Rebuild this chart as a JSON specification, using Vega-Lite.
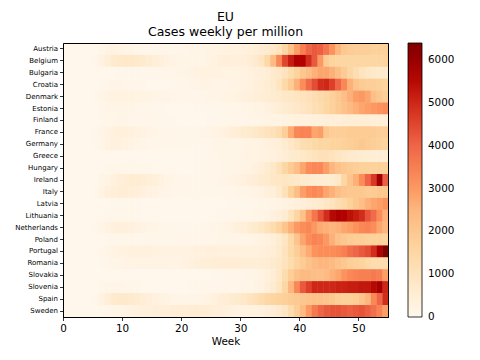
{"$schema":"https://vega.github.io/schema/vega-lite/v6.json","width":325,"height":274,"autosize":{"type":"none"},"padding":{"left":63,"top":43,"right":92,"bottom":43},
"title":{"text":["EU","Cases weekly per million"],"fontSize":12.5,"font":"DejaVu Sans","fontWeight":"normal","color":"black","lineHeight":15,"offset":5,"anchor":"middle"},
"data":{"values":[
{"c":"Austria","w":0,"v":0},{"c":"Austria","w":1,"v":0},{"c":"Austria","w":2,"v":0},{"c":"Austria","w":3,"v":0},{"c":"Austria","w":4,"v":0},{"c":"Austria","w":5,"v":20},{"c":"Austria","w":6,"v":80},{"c":"Austria","w":7,"v":200},{"c":"Austria","w":8,"v":250},{"c":"Austria","w":9,"v":200},{"c":"Austria","w":10,"v":150},{"c":"Austria","w":11,"v":100},{"c":"Austria","w":12,"v":60},{"c":"Austria","w":13,"v":40},{"c":"Austria","w":14,"v":30},{"c":"Austria","w":15,"v":30},{"c":"Austria","w":16,"v":30},{"c":"Austria","w":17,"v":40},{"c":"Austria","w":18,"v":50},{"c":"Austria","w":19,"v":60},{"c":"Austria","w":20,"v":80},{"c":"Austria","w":21,"v":100},{"c":"Austria","w":22,"v":120},{"c":"Austria","w":23,"v":150},{"c":"Austria","w":24,"v":180},{"c":"Austria","w":25,"v":200},{"c":"Austria","w":26,"v":220},{"c":"Austria","w":27,"v":250},{"c":"Austria","w":28,"v":250},{"c":"Austria","w":29,"v":280},{"c":"Austria","w":30,"v":320},{"c":"Austria","w":31,"v":380},{"c":"Austria","w":32,"v":450},{"c":"Austria","w":33,"v":550},{"c":"Austria","w":34,"v":650},{"c":"Austria","w":35,"v":800},{"c":"Austria","w":36,"v":1000},{"c":"Austria","w":37,"v":1500},{"c":"Austria","w":38,"v":2200},{"c":"Austria","w":39,"v":2900},{"c":"Austria","w":40,"v":3500},{"c":"Austria","w":41,"v":4000},{"c":"Austria","w":42,"v":4200},{"c":"Austria","w":43,"v":4100},{"c":"Austria","w":44,"v":3700},{"c":"Austria","w":45,"v":3100},{"c":"Austria","w":46,"v":2500},{"c":"Austria","w":47,"v":2000},{"c":"Austria","w":48,"v":1900},{"c":"Austria","w":49,"v":1800},{"c":"Austria","w":50,"v":1800},{"c":"Austria","w":51,"v":1800},{"c":"Austria","w":52,"v":1700},{"c":"Austria","w":53,"v":1700},{"c":"Austria","w":54,"v":1700},
{"c":"Belgium","w":0,"v":0},{"c":"Belgium","w":1,"v":0},{"c":"Belgium","w":2,"v":0},{"c":"Belgium","w":3,"v":0},{"c":"Belgium","w":4,"v":5},{"c":"Belgium","w":5,"v":80},{"c":"Belgium","w":6,"v":250},{"c":"Belgium","w":7,"v":450},{"c":"Belgium","w":8,"v":650},{"c":"Belgium","w":9,"v":750},{"c":"Belgium","w":10,"v":800},{"c":"Belgium","w":11,"v":800},{"c":"Belgium","w":12,"v":750},{"c":"Belgium","w":13,"v":650},{"c":"Belgium","w":14,"v":550},{"c":"Belgium","w":15,"v":450},{"c":"Belgium","w":16,"v":350},{"c":"Belgium","w":17,"v":250},{"c":"Belgium","w":18,"v":200},{"c":"Belgium","w":19,"v":150},{"c":"Belgium","w":20,"v":120},{"c":"Belgium","w":21,"v":100},{"c":"Belgium","w":22,"v":100},{"c":"Belgium","w":23,"v":120},{"c":"Belgium","w":24,"v":180},{"c":"Belgium","w":25,"v":280},{"c":"Belgium","w":26,"v":380},{"c":"Belgium","w":27,"v":400},{"c":"Belgium","w":28,"v":350},{"c":"Belgium","w":29,"v":350},{"c":"Belgium","w":30,"v":400},{"c":"Belgium","w":31,"v":500},{"c":"Belgium","w":32,"v":650},{"c":"Belgium","w":33,"v":900},{"c":"Belgium","w":34,"v":1400},{"c":"Belgium","w":35,"v":2400},{"c":"Belgium","w":36,"v":3300},{"c":"Belgium","w":37,"v":4500},{"c":"Belgium","w":38,"v":5200},{"c":"Belgium","w":39,"v":5600},{"c":"Belgium","w":40,"v":5600},{"c":"Belgium","w":41,"v":4900},{"c":"Belgium","w":42,"v":4200},{"c":"Belgium","w":43,"v":3000},{"c":"Belgium","w":44,"v":1900},{"c":"Belgium","w":45,"v":1600},{"c":"Belgium","w":46,"v":1500},{"c":"Belgium","w":47,"v":1500},{"c":"Belgium","w":48,"v":1500},{"c":"Belgium","w":49,"v":1500},{"c":"Belgium","w":50,"v":1500},{"c":"Belgium","w":51,"v":1500},{"c":"Belgium","w":52,"v":1500},{"c":"Belgium","w":53,"v":1500},{"c":"Belgium","w":54,"v":1600},
{"c":"Bulgaria","w":0,"v":0},{"c":"Bulgaria","w":1,"v":0},{"c":"Bulgaria","w":2,"v":0},{"c":"Bulgaria","w":3,"v":0},{"c":"Bulgaria","w":4,"v":0},{"c":"Bulgaria","w":5,"v":0},{"c":"Bulgaria","w":6,"v":0},{"c":"Bulgaria","w":7,"v":10},{"c":"Bulgaria","w":8,"v":20},{"c":"Bulgaria","w":9,"v":30},{"c":"Bulgaria","w":10,"v":30},{"c":"Bulgaria","w":11,"v":30},{"c":"Bulgaria","w":12,"v":30},{"c":"Bulgaria","w":13,"v":30},{"c":"Bulgaria","w":14,"v":40},{"c":"Bulgaria","w":15,"v":40},{"c":"Bulgaria","w":16,"v":50},{"c":"Bulgaria","w":17,"v":60},{"c":"Bulgaria","w":18,"v":80},{"c":"Bulgaria","w":19,"v":100},{"c":"Bulgaria","w":20,"v":150},{"c":"Bulgaria","w":21,"v":200},{"c":"Bulgaria","w":22,"v":250},{"c":"Bulgaria","w":23,"v":280},{"c":"Bulgaria","w":24,"v":280},{"c":"Bulgaria","w":25,"v":260},{"c":"Bulgaria","w":26,"v":240},{"c":"Bulgaria","w":27,"v":220},{"c":"Bulgaria","w":28,"v":200},{"c":"Bulgaria","w":29,"v":220},{"c":"Bulgaria","w":30,"v":250},{"c":"Bulgaria","w":31,"v":300},{"c":"Bulgaria","w":32,"v":350},{"c":"Bulgaria","w":33,"v":400},{"c":"Bulgaria","w":34,"v":500},{"c":"Bulgaria","w":35,"v":650},{"c":"Bulgaria","w":36,"v":800},{"c":"Bulgaria","w":37,"v":1000},{"c":"Bulgaria","w":38,"v":1300},{"c":"Bulgaria","w":39,"v":1600},{"c":"Bulgaria","w":40,"v":2000},{"c":"Bulgaria","w":41,"v":2300},{"c":"Bulgaria","w":42,"v":2600},{"c":"Bulgaria","w":43,"v":2800},{"c":"Bulgaria","w":44,"v":2800},{"c":"Bulgaria","w":45,"v":2600},{"c":"Bulgaria","w":46,"v":2300},{"c":"Bulgaria","w":47,"v":1900},{"c":"Bulgaria","w":48,"v":1500},{"c":"Bulgaria","w":49,"v":1200},{"c":"Bulgaria","w":50,"v":1000},{"c":"Bulgaria","w":51,"v":850},{"c":"Bulgaria","w":52,"v":750},{"c":"Bulgaria","w":53,"v":700},{"c":"Bulgaria","w":54,"v":700},
{"c":"Croatia","w":0,"v":0},{"c":"Croatia","w":1,"v":0},{"c":"Croatia","w":2,"v":0},{"c":"Croatia","w":3,"v":0},{"c":"Croatia","w":4,"v":0},{"c":"Croatia","w":5,"v":10},{"c":"Croatia","w":6,"v":40},{"c":"Croatia","w":7,"v":80},{"c":"Croatia","w":8,"v":100},{"c":"Croatia","w":9,"v":100},{"c":"Croatia","w":10,"v":80},{"c":"Croatia","w":11,"v":60},{"c":"Croatia","w":12,"v":40},{"c":"Croatia","w":13,"v":30},{"c":"Croatia","w":14,"v":20},{"c":"Croatia","w":15,"v":20},{"c":"Croatia","w":16,"v":20},{"c":"Croatia","w":17,"v":20},{"c":"Croatia","w":18,"v":30},{"c":"Croatia","w":19,"v":50},{"c":"Croatia","w":20,"v":80},{"c":"Croatia","w":21,"v":120},{"c":"Croatia","w":22,"v":150},{"c":"Croatia","w":23,"v":180},{"c":"Croatia","w":24,"v":180},{"c":"Croatia","w":25,"v":160},{"c":"Croatia","w":26,"v":150},{"c":"Croatia","w":27,"v":150},{"c":"Croatia","w":28,"v":170},{"c":"Croatia","w":29,"v":200},{"c":"Croatia","w":30,"v":250},{"c":"Croatia","w":31,"v":300},{"c":"Croatia","w":32,"v":350},{"c":"Croatia","w":33,"v":450},{"c":"Croatia","w":34,"v":550},{"c":"Croatia","w":35,"v":700},{"c":"Croatia","w":36,"v":950},{"c":"Croatia","w":37,"v":1400},{"c":"Croatia","w":38,"v":1900},{"c":"Croatia","w":39,"v":2600},{"c":"Croatia","w":40,"v":3200},{"c":"Croatia","w":41,"v":3900},{"c":"Croatia","w":42,"v":4400},{"c":"Croatia","w":43,"v":4900},{"c":"Croatia","w":44,"v":5000},{"c":"Croatia","w":45,"v":4600},{"c":"Croatia","w":46,"v":4000},{"c":"Croatia","w":47,"v":3300},{"c":"Croatia","w":48,"v":2600},{"c":"Croatia","w":49,"v":2100},{"c":"Croatia","w":50,"v":1900},{"c":"Croatia","w":51,"v":1800},{"c":"Croatia","w":52,"v":1800},{"c":"Croatia","w":53,"v":1700},{"c":"Croatia","w":54,"v":1600},
{"c":"Denmark","w":0,"v":0},{"c":"Denmark","w":1,"v":0},{"c":"Denmark","w":2,"v":0},{"c":"Denmark","w":3,"v":0},{"c":"Denmark","w":4,"v":0},{"c":"Denmark","w":5,"v":30},{"c":"Denmark","w":6,"v":120},{"c":"Denmark","w":7,"v":200},{"c":"Denmark","w":8,"v":250},{"c":"Denmark","w":9,"v":280},{"c":"Denmark","w":10,"v":280},{"c":"Denmark","w":11,"v":250},{"c":"Denmark","w":12,"v":220},{"c":"Denmark","w":13,"v":200},{"c":"Denmark","w":14,"v":180},{"c":"Denmark","w":15,"v":150},{"c":"Denmark","w":16,"v":120},{"c":"Denmark","w":17,"v":100},{"c":"Denmark","w":18,"v":80},{"c":"Denmark","w":19,"v":80},{"c":"Denmark","w":20,"v":60},{"c":"Denmark","w":21,"v":60},{"c":"Denmark","w":22,"v":60},{"c":"Denmark","w":23,"v":80},{"c":"Denmark","w":24,"v":100},{"c":"Denmark","w":25,"v":130},{"c":"Denmark","w":26,"v":160},{"c":"Denmark","w":27,"v":200},{"c":"Denmark","w":28,"v":230},{"c":"Denmark","w":29,"v":260},{"c":"Denmark","w":30,"v":300},{"c":"Denmark","w":31,"v":350},{"c":"Denmark","w":32,"v":400},{"c":"Denmark","w":33,"v":480},{"c":"Denmark","w":34,"v":550},{"c":"Denmark","w":35,"v":600},{"c":"Denmark","w":36,"v":700},{"c":"Denmark","w":37,"v":800},{"c":"Denmark","w":38,"v":850},{"c":"Denmark","w":39,"v":900},{"c":"Denmark","w":40,"v":1000},{"c":"Denmark","w":41,"v":1100},{"c":"Denmark","w":42,"v":1200},{"c":"Denmark","w":43,"v":1350},{"c":"Denmark","w":44,"v":1500},{"c":"Denmark","w":45,"v":1700},{"c":"Denmark","w":46,"v":1950},{"c":"Denmark","w":47,"v":2300},{"c":"Denmark","w":48,"v":2600},{"c":"Denmark","w":49,"v":2900},{"c":"Denmark","w":50,"v":3000},{"c":"Denmark","w":51,"v":2800},{"c":"Denmark","w":52,"v":2300},{"c":"Denmark","w":53,"v":2000},{"c":"Denmark","w":54,"v":1800},
{"c":"Estonia","w":0,"v":0},{"c":"Estonia","w":1,"v":0},{"c":"Estonia","w":2,"v":0},{"c":"Estonia","w":3,"v":0},{"c":"Estonia","w":4,"v":0},{"c":"Estonia","w":5,"v":20},{"c":"Estonia","w":6,"v":60},{"c":"Estonia","w":7,"v":100},{"c":"Estonia","w":8,"v":120},{"c":"Estonia","w":9,"v":130},{"c":"Estonia","w":10,"v":120},{"c":"Estonia","w":11,"v":100},{"c":"Estonia","w":12,"v":80},{"c":"Estonia","w":13,"v":60},{"c":"Estonia","w":14,"v":40},{"c":"Estonia","w":15,"v":30},{"c":"Estonia","w":16,"v":30},{"c":"Estonia","w":17,"v":20},{"c":"Estonia","w":18,"v":20},{"c":"Estonia","w":19,"v":20},{"c":"Estonia","w":20,"v":20},{"c":"Estonia","w":21,"v":20},{"c":"Estonia","w":22,"v":30},{"c":"Estonia","w":23,"v":30},{"c":"Estonia","w":24,"v":40},{"c":"Estonia","w":25,"v":40},{"c":"Estonia","w":26,"v":50},{"c":"Estonia","w":27,"v":60},{"c":"Estonia","w":28,"v":70},{"c":"Estonia","w":29,"v":80},{"c":"Estonia","w":30,"v":100},{"c":"Estonia","w":31,"v":130},{"c":"Estonia","w":32,"v":170},{"c":"Estonia","w":33,"v":230},{"c":"Estonia","w":34,"v":300},{"c":"Estonia","w":35,"v":380},{"c":"Estonia","w":36,"v":480},{"c":"Estonia","w":37,"v":580},{"c":"Estonia","w":38,"v":680},{"c":"Estonia","w":39,"v":780},{"c":"Estonia","w":40,"v":880},{"c":"Estonia","w":41,"v":1000},{"c":"Estonia","w":42,"v":1150},{"c":"Estonia","w":43,"v":1300},{"c":"Estonia","w":44,"v":1500},{"c":"Estonia","w":45,"v":1700},{"c":"Estonia","w":46,"v":1950},{"c":"Estonia","w":47,"v":2200},{"c":"Estonia","w":48,"v":2400},{"c":"Estonia","w":49,"v":2600},{"c":"Estonia","w":50,"v":2800},{"c":"Estonia","w":51,"v":2900},{"c":"Estonia","w":52,"v":3000},{"c":"Estonia","w":53,"v":3100},{"c":"Estonia","w":54,"v":3200},
{"c":"Finland","w":0,"v":0},{"c":"Finland","w":1,"v":0},{"c":"Finland","w":2,"v":0},{"c":"Finland","w":3,"v":0},{"c":"Finland","w":4,"v":0},{"c":"Finland","w":5,"v":10},{"c":"Finland","w":6,"v":40},{"c":"Finland","w":7,"v":70},{"c":"Finland","w":8,"v":90},{"c":"Finland","w":9,"v":100},{"c":"Finland","w":10,"v":100},{"c":"Finland","w":11,"v":90},{"c":"Finland","w":12,"v":80},{"c":"Finland","w":13,"v":70},{"c":"Finland","w":14,"v":60},{"c":"Finland","w":15,"v":50},{"c":"Finland","w":16,"v":40},{"c":"Finland","w":17,"v":30},{"c":"Finland","w":18,"v":30},{"c":"Finland","w":19,"v":20},{"c":"Finland","w":20,"v":20},{"c":"Finland","w":21,"v":20},{"c":"Finland","w":22,"v":20},{"c":"Finland","w":23,"v":20},{"c":"Finland","w":24,"v":30},{"c":"Finland","w":25,"v":30},{"c":"Finland","w":26,"v":40},{"c":"Finland","w":27,"v":50},{"c":"Finland","w":28,"v":60},{"c":"Finland","w":29,"v":70},{"c":"Finland","w":30,"v":80},{"c":"Finland","w":31,"v":100},{"c":"Finland","w":32,"v":120},{"c":"Finland","w":33,"v":150},{"c":"Finland","w":34,"v":180},{"c":"Finland","w":35,"v":200},{"c":"Finland","w":36,"v":230},{"c":"Finland","w":37,"v":260},{"c":"Finland","w":38,"v":280},{"c":"Finland","w":39,"v":300},{"c":"Finland","w":40,"v":320},{"c":"Finland","w":41,"v":340},{"c":"Finland","w":42,"v":360},{"c":"Finland","w":43,"v":380},{"c":"Finland","w":44,"v":400},{"c":"Finland","w":45,"v":420},{"c":"Finland","w":46,"v":440},{"c":"Finland","w":47,"v":460},{"c":"Finland","w":48,"v":480},{"c":"Finland","w":49,"v":500},{"c":"Finland","w":50,"v":500},{"c":"Finland","w":51,"v":480},{"c":"Finland","w":52,"v":450},{"c":"Finland","w":53,"v":420},{"c":"Finland","w":54,"v":400},
{"c":"France","w":0,"v":0},{"c":"France","w":1,"v":0},{"c":"France","w":2,"v":0},{"c":"France","w":3,"v":0},{"c":"France","w":4,"v":10},{"c":"France","w":5,"v":50},{"c":"France","w":6,"v":150},{"c":"France","w":7,"v":250},{"c":"France","w":8,"v":300},{"c":"France","w":9,"v":350},{"c":"France","w":10,"v":350},{"c":"France","w":11,"v":300},{"c":"France","w":12,"v":250},{"c":"France","w":13,"v":200},{"c":"France","w":14,"v":150},{"c":"France","w":15,"v":100},{"c":"France","w":16,"v":80},{"c":"France","w":17,"v":60},{"c":"France","w":18,"v":50},{"c":"France","w":19,"v":50},{"c":"France","w":20,"v":50},{"c":"France","w":21,"v":60},{"c":"France","w":22,"v":80},{"c":"France","w":23,"v":100},{"c":"France","w":24,"v":150},{"c":"France","w":25,"v":200},{"c":"France","w":26,"v":250},{"c":"France","w":27,"v":300},{"c":"France","w":28,"v":400},{"c":"France","w":29,"v":500},{"c":"France","w":30,"v":600},{"c":"France","w":31,"v":700},{"c":"France","w":32,"v":800},{"c":"France","w":33,"v":900},{"c":"France","w":34,"v":1000},{"c":"France","w":35,"v":1100},{"c":"France","w":36,"v":1300},{"c":"France","w":37,"v":1800},{"c":"France","w":38,"v":2700},{"c":"France","w":39,"v":3300},{"c":"France","w":40,"v":3400},{"c":"France","w":41,"v":3400},{"c":"France","w":42,"v":2800},{"c":"France","w":43,"v":2900},{"c":"France","w":44,"v":2000},{"c":"France","w":45,"v":1800},{"c":"France","w":46,"v":1800},{"c":"France","w":47,"v":1800},{"c":"France","w":48,"v":1900},{"c":"France","w":49,"v":1900},{"c":"France","w":50,"v":1900},{"c":"France","w":51,"v":1900},{"c":"France","w":52,"v":1900},{"c":"France","w":53,"v":1800},{"c":"France","w":54,"v":1800},
{"c":"Germany","w":0,"v":0},{"c":"Germany","w":1,"v":0},{"c":"Germany","w":2,"v":0},{"c":"Germany","w":3,"v":0},{"c":"Germany","w":4,"v":0},{"c":"Germany","w":5,"v":30},{"c":"Germany","w":6,"v":120},{"c":"Germany","w":7,"v":250},{"c":"Germany","w":8,"v":300},{"c":"Germany","w":9,"v":300},{"c":"Germany","w":10,"v":250},{"c":"Germany","w":11,"v":200},{"c":"Germany","w":12,"v":150},{"c":"Germany","w":13,"v":100},{"c":"Germany","w":14,"v":80},{"c":"Germany","w":15,"v":60},{"c":"Germany","w":16,"v":50},{"c":"Germany","w":17,"v":40},{"c":"Germany","w":18,"v":40},{"c":"Germany","w":19,"v":40},{"c":"Germany","w":20,"v":40},{"c":"Germany","w":21,"v":50},{"c":"Germany","w":22,"v":50},{"c":"Germany","w":23,"v":60},{"c":"Germany","w":24,"v":80},{"c":"Germany","w":25,"v":100},{"c":"Germany","w":26,"v":100},{"c":"Germany","w":27,"v":120},{"c":"Germany","w":28,"v":120},{"c":"Germany","w":29,"v":130},{"c":"Germany","w":30,"v":150},{"c":"Germany","w":31,"v":180},{"c":"Germany","w":32,"v":220},{"c":"Germany","w":33,"v":260},{"c":"Germany","w":34,"v":300},{"c":"Germany","w":35,"v":350},{"c":"Germany","w":36,"v":450},{"c":"Germany","w":37,"v":600},{"c":"Germany","w":38,"v":800},{"c":"Germany","w":39,"v":1000},{"c":"Germany","w":40,"v":1200},{"c":"Germany","w":41,"v":1300},{"c":"Germany","w":42,"v":1400},{"c":"Germany","w":43,"v":1500},{"c":"Germany","w":44,"v":1500},{"c":"Germany","w":45,"v":1600},{"c":"Germany","w":46,"v":1600},{"c":"Germany","w":47,"v":1700},{"c":"Germany","w":48,"v":1800},{"c":"Germany","w":49,"v":1900},{"c":"Germany","w":50,"v":2000},{"c":"Germany","w":51,"v":1900},{"c":"Germany","w":52,"v":1800},{"c":"Germany","w":53,"v":1700},{"c":"Germany","w":54,"v":1600},
{"c":"Greece","w":0,"v":0},{"c":"Greece","w":1,"v":0},{"c":"Greece","w":2,"v":0},{"c":"Greece","w":3,"v":0},{"c":"Greece","w":4,"v":0},{"c":"Greece","w":5,"v":0},{"c":"Greece","w":6,"v":10},{"c":"Greece","w":7,"v":20},{"c":"Greece","w":8,"v":20},{"c":"Greece","w":9,"v":20},{"c":"Greece","w":10,"v":20},{"c":"Greece","w":11,"v":20},{"c":"Greece","w":12,"v":10},{"c":"Greece","w":13,"v":10},{"c":"Greece","w":14,"v":10},{"c":"Greece","w":15,"v":10},{"c":"Greece","w":16,"v":10},{"c":"Greece","w":17,"v":10},{"c":"Greece","w":18,"v":10},{"c":"Greece","w":19,"v":10},{"c":"Greece","w":20,"v":10},{"c":"Greece","w":21,"v":20},{"c":"Greece","w":22,"v":30},{"c":"Greece","w":23,"v":40},{"c":"Greece","w":24,"v":60},{"c":"Greece","w":25,"v":80},{"c":"Greece","w":26,"v":100},{"c":"Greece","w":27,"v":120},{"c":"Greece","w":28,"v":140},{"c":"Greece","w":29,"v":160},{"c":"Greece","w":30,"v":180},{"c":"Greece","w":31,"v":200},{"c":"Greece","w":32,"v":220},{"c":"Greece","w":33,"v":250},{"c":"Greece","w":34,"v":280},{"c":"Greece","w":35,"v":300},{"c":"Greece","w":36,"v":400},{"c":"Greece","w":37,"v":500},{"c":"Greece","w":38,"v":600},{"c":"Greece","w":39,"v":700},{"c":"Greece","w":40,"v":800},{"c":"Greece","w":41,"v":900},{"c":"Greece","w":42,"v":1000},{"c":"Greece","w":43,"v":1100},{"c":"Greece","w":44,"v":1100},{"c":"Greece","w":45,"v":1000},{"c":"Greece","w":46,"v":900},{"c":"Greece","w":47,"v":800},{"c":"Greece","w":48,"v":700},{"c":"Greece","w":49,"v":650},{"c":"Greece","w":50,"v":600},{"c":"Greece","w":51,"v":550},{"c":"Greece","w":52,"v":500},{"c":"Greece","w":53,"v":500},{"c":"Greece","w":54,"v":500},
{"c":"Hungary","w":0,"v":0},{"c":"Hungary","w":1,"v":0},{"c":"Hungary","w":2,"v":0},{"c":"Hungary","w":3,"v":0},{"c":"Hungary","w":4,"v":0},{"c":"Hungary","w":5,"v":0},{"c":"Hungary","w":6,"v":20},{"c":"Hungary","w":7,"v":40},{"c":"Hungary","w":8,"v":60},{"c":"Hungary","w":9,"v":70},{"c":"Hungary","w":10,"v":70},{"c":"Hungary","w":11,"v":60},{"c":"Hungary","w":12,"v":50},{"c":"Hungary","w":13,"v":40},{"c":"Hungary","w":14,"v":30},{"c":"Hungary","w":15,"v":20},{"c":"Hungary","w":16,"v":20},{"c":"Hungary","w":17,"v":20},{"c":"Hungary","w":18,"v":20},{"c":"Hungary","w":19,"v":20},{"c":"Hungary","w":20,"v":20},{"c":"Hungary","w":21,"v":20},{"c":"Hungary","w":22,"v":30},{"c":"Hungary","w":23,"v":40},{"c":"Hungary","w":24,"v":50},{"c":"Hungary","w":25,"v":60},{"c":"Hungary","w":26,"v":80},{"c":"Hungary","w":27,"v":100},{"c":"Hungary","w":28,"v":120},{"c":"Hungary","w":29,"v":150},{"c":"Hungary","w":30,"v":180},{"c":"Hungary","w":31,"v":220},{"c":"Hungary","w":32,"v":300},{"c":"Hungary","w":33,"v":450},{"c":"Hungary","w":34,"v":600},{"c":"Hungary","w":35,"v":800},{"c":"Hungary","w":36,"v":1100},{"c":"Hungary","w":37,"v":1500},{"c":"Hungary","w":38,"v":1900},{"c":"Hungary","w":39,"v":2300},{"c":"Hungary","w":40,"v":2800},{"c":"Hungary","w":41,"v":3200},{"c":"Hungary","w":42,"v":3300},{"c":"Hungary","w":43,"v":3300},{"c":"Hungary","w":44,"v":2900},{"c":"Hungary","w":45,"v":2500},{"c":"Hungary","w":46,"v":2200},{"c":"Hungary","w":47,"v":2000},{"c":"Hungary","w":48,"v":1900},{"c":"Hungary","w":49,"v":1800},{"c":"Hungary","w":50,"v":1700},{"c":"Hungary","w":51,"v":1700},{"c":"Hungary","w":52,"v":1700},{"c":"Hungary","w":53,"v":1700},{"c":"Hungary","w":54,"v":1700},
{"c":"Ireland","w":0,"v":0},{"c":"Ireland","w":1,"v":0},{"c":"Ireland","w":2,"v":0},{"c":"Ireland","w":3,"v":0},{"c":"Ireland","w":4,"v":0},{"c":"Ireland","w":5,"v":20},{"c":"Ireland","w":6,"v":100},{"c":"Ireland","w":7,"v":200},{"c":"Ireland","w":8,"v":300},{"c":"Ireland","w":9,"v":400},{"c":"Ireland","w":10,"v":500},{"c":"Ireland","w":11,"v":550},{"c":"Ireland","w":12,"v":550},{"c":"Ireland","w":13,"v":500},{"c":"Ireland","w":14,"v":450},{"c":"Ireland","w":15,"v":350},{"c":"Ireland","w":16,"v":250},{"c":"Ireland","w":17,"v":150},{"c":"Ireland","w":18,"v":100},{"c":"Ireland","w":19,"v":80},{"c":"Ireland","w":20,"v":60},{"c":"Ireland","w":21,"v":50},{"c":"Ireland","w":22,"v":50},{"c":"Ireland","w":23,"v":50},{"c":"Ireland","w":24,"v":60},{"c":"Ireland","w":25,"v":80},{"c":"Ireland","w":26,"v":120},{"c":"Ireland","w":27,"v":150},{"c":"Ireland","w":28,"v":200},{"c":"Ireland","w":29,"v":250},{"c":"Ireland","w":30,"v":300},{"c":"Ireland","w":31,"v":400},{"c":"Ireland","w":32,"v":500},{"c":"Ireland","w":33,"v":600},{"c":"Ireland","w":34,"v":700},{"c":"Ireland","w":35,"v":800},{"c":"Ireland","w":36,"v":850},{"c":"Ireland","w":37,"v":900},{"c":"Ireland","w":38,"v":850},{"c":"Ireland","w":39,"v":800},{"c":"Ireland","w":40,"v":700},{"c":"Ireland","w":41,"v":650},{"c":"Ireland","w":42,"v":600},{"c":"Ireland","w":43,"v":550},{"c":"Ireland","w":44,"v":550},{"c":"Ireland","w":45,"v":600},{"c":"Ireland","w":46,"v":800},{"c":"Ireland","w":47,"v":1500},{"c":"Ireland","w":48,"v":2100},{"c":"Ireland","w":49,"v":2600},{"c":"Ireland","w":50,"v":3200},{"c":"Ireland","w":51,"v":4000},{"c":"Ireland","w":52,"v":4700},{"c":"Ireland","w":53,"v":5900},{"c":"Ireland","w":54,"v":4100},
{"c":"Italy","w":0,"v":0},{"c":"Italy","w":1,"v":0},{"c":"Italy","w":2,"v":0},{"c":"Italy","w":3,"v":0},{"c":"Italy","w":4,"v":0},{"c":"Italy","w":5,"v":50},{"c":"Italy","w":6,"v":200},{"c":"Italy","w":7,"v":350},{"c":"Italy","w":8,"v":450},{"c":"Italy","w":9,"v":500},{"c":"Italy","w":10,"v":500},{"c":"Italy","w":11,"v":450},{"c":"Italy","w":12,"v":400},{"c":"Italy","w":13,"v":300},{"c":"Italy","w":14,"v":250},{"c":"Italy","w":15,"v":200},{"c":"Italy","w":16,"v":150},{"c":"Italy","w":17,"v":100},{"c":"Italy","w":18,"v":80},{"c":"Italy","w":19,"v":60},{"c":"Italy","w":20,"v":50},{"c":"Italy","w":21,"v":40},{"c":"Italy","w":22,"v":40},{"c":"Italy","w":23,"v":40},{"c":"Italy","w":24,"v":50},{"c":"Italy","w":25,"v":50},{"c":"Italy","w":26,"v":60},{"c":"Italy","w":27,"v":70},{"c":"Italy","w":28,"v":80},{"c":"Italy","w":29,"v":100},{"c":"Italy","w":30,"v":120},{"c":"Italy","w":31,"v":150},{"c":"Italy","w":32,"v":200},{"c":"Italy","w":33,"v":250},{"c":"Italy","w":34,"v":350},{"c":"Italy","w":35,"v":450},{"c":"Italy","w":36,"v":650},{"c":"Italy","w":37,"v":1100},{"c":"Italy","w":38,"v":1700},{"c":"Italy","w":39,"v":2300},{"c":"Italy","w":40,"v":2900},{"c":"Italy","w":41,"v":3200},{"c":"Italy","w":42,"v":3300},{"c":"Italy","w":43,"v":3200},{"c":"Italy","w":44,"v":2800},{"c":"Italy","w":45,"v":2600},{"c":"Italy","w":46,"v":2300},{"c":"Italy","w":47,"v":2100},{"c":"Italy","w":48,"v":2000},{"c":"Italy","w":49,"v":2000},{"c":"Italy","w":50,"v":2000},{"c":"Italy","w":51,"v":1900},{"c":"Italy","w":52,"v":1900},{"c":"Italy","w":53,"v":2000},{"c":"Italy","w":54,"v":2000},
{"c":"Latvia","w":0,"v":0},{"c":"Latvia","w":1,"v":0},{"c":"Latvia","w":2,"v":0},{"c":"Latvia","w":3,"v":0},{"c":"Latvia","w":4,"v":0},{"c":"Latvia","w":5,"v":0},{"c":"Latvia","w":6,"v":10},{"c":"Latvia","w":7,"v":20},{"c":"Latvia","w":8,"v":30},{"c":"Latvia","w":9,"v":40},{"c":"Latvia","w":10,"v":40},{"c":"Latvia","w":11,"v":40},{"c":"Latvia","w":12,"v":30},{"c":"Latvia","w":13,"v":20},{"c":"Latvia","w":14,"v":20},{"c":"Latvia","w":15,"v":10},{"c":"Latvia","w":16,"v":10},{"c":"Latvia","w":17,"v":10},{"c":"Latvia","w":18,"v":10},{"c":"Latvia","w":19,"v":10},{"c":"Latvia","w":20,"v":10},{"c":"Latvia","w":21,"v":10},{"c":"Latvia","w":22,"v":10},{"c":"Latvia","w":23,"v":10},{"c":"Latvia","w":24,"v":10},{"c":"Latvia","w":25,"v":20},{"c":"Latvia","w":26,"v":20},{"c":"Latvia","w":27,"v":20},{"c":"Latvia","w":28,"v":30},{"c":"Latvia","w":29,"v":30},{"c":"Latvia","w":30,"v":40},{"c":"Latvia","w":31,"v":60},{"c":"Latvia","w":32,"v":80},{"c":"Latvia","w":33,"v":100},{"c":"Latvia","w":34,"v":120},{"c":"Latvia","w":35,"v":150},{"c":"Latvia","w":36,"v":200},{"c":"Latvia","w":37,"v":250},{"c":"Latvia","w":38,"v":300},{"c":"Latvia","w":39,"v":350},{"c":"Latvia","w":40,"v":400},{"c":"Latvia","w":41,"v":500},{"c":"Latvia","w":42,"v":600},{"c":"Latvia","w":43,"v":700},{"c":"Latvia","w":44,"v":850},{"c":"Latvia","w":45,"v":1000},{"c":"Latvia","w":46,"v":1200},{"c":"Latvia","w":47,"v":1400},{"c":"Latvia","w":48,"v":1700},{"c":"Latvia","w":49,"v":2000},{"c":"Latvia","w":50,"v":2300},{"c":"Latvia","w":51,"v":2600},{"c":"Latvia","w":52,"v":2800},{"c":"Latvia","w":53,"v":2900},{"c":"Latvia","w":54,"v":3100},
{"c":"Lithuania","w":0,"v":0},{"c":"Lithuania","w":1,"v":0},{"c":"Lithuania","w":2,"v":0},{"c":"Lithuania","w":3,"v":0},{"c":"Lithuania","w":4,"v":0},{"c":"Lithuania","w":5,"v":0},{"c":"Lithuania","w":6,"v":10},{"c":"Lithuania","w":7,"v":30},{"c":"Lithuania","w":8,"v":40},{"c":"Lithuania","w":9,"v":50},{"c":"Lithuania","w":10,"v":50},{"c":"Lithuania","w":11,"v":40},{"c":"Lithuania","w":12,"v":30},{"c":"Lithuania","w":13,"v":20},{"c":"Lithuania","w":14,"v":20},{"c":"Lithuania","w":15,"v":10},{"c":"Lithuania","w":16,"v":10},{"c":"Lithuania","w":17,"v":10},{"c":"Lithuania","w":18,"v":10},{"c":"Lithuania","w":19,"v":10},{"c":"Lithuania","w":20,"v":10},{"c":"Lithuania","w":21,"v":10},{"c":"Lithuania","w":22,"v":10},{"c":"Lithuania","w":23,"v":10},{"c":"Lithuania","w":24,"v":20},{"c":"Lithuania","w":25,"v":20},{"c":"Lithuania","w":26,"v":30},{"c":"Lithuania","w":27,"v":30},{"c":"Lithuania","w":28,"v":40},{"c":"Lithuania","w":29,"v":50},{"c":"Lithuania","w":30,"v":60},{"c":"Lithuania","w":31,"v":80},{"c":"Lithuania","w":32,"v":100},{"c":"Lithuania","w":33,"v":150},{"c":"Lithuania","w":34,"v":200},{"c":"Lithuania","w":35,"v":300},{"c":"Lithuania","w":36,"v":400},{"c":"Lithuania","w":37,"v":600},{"c":"Lithuania","w":38,"v":1000},{"c":"Lithuania","w":39,"v":1500},{"c":"Lithuania","w":40,"v":2200},{"c":"Lithuania","w":41,"v":3000},{"c":"Lithuania","w":42,"v":3700},{"c":"Lithuania","w":43,"v":4300},{"c":"Lithuania","w":44,"v":4900},{"c":"Lithuania","w":45,"v":5500},{"c":"Lithuania","w":46,"v":5700},{"c":"Lithuania","w":47,"v":5600},{"c":"Lithuania","w":48,"v":5400},{"c":"Lithuania","w":49,"v":5200},{"c":"Lithuania","w":50,"v":4900},{"c":"Lithuania","w":51,"v":4300},{"c":"Lithuania","w":52,"v":3900},{"c":"Lithuania","w":53,"v":3200},{"c":"Lithuania","w":54,"v":2600},
{"c":"Netherlands","w":0,"v":0},{"c":"Netherlands","w":1,"v":0},{"c":"Netherlands","w":2,"v":0},{"c":"Netherlands","w":3,"v":0},{"c":"Netherlands","w":4,"v":0},{"c":"Netherlands","w":5,"v":30},{"c":"Netherlands","w":6,"v":120},{"c":"Netherlands","w":7,"v":250},{"c":"Netherlands","w":8,"v":330},{"c":"Netherlands","w":9,"v":350},{"c":"Netherlands","w":10,"v":350},{"c":"Netherlands","w":11,"v":300},{"c":"Netherlands","w":12,"v":250},{"c":"Netherlands","w":13,"v":200},{"c":"Netherlands","w":14,"v":150},{"c":"Netherlands","w":15,"v":100},{"c":"Netherlands","w":16,"v":80},{"c":"Netherlands","w":17,"v":50},{"c":"Netherlands","w":18,"v":40},{"c":"Netherlands","w":19,"v":30},{"c":"Netherlands","w":20,"v":30},{"c":"Netherlands","w":21,"v":30},{"c":"Netherlands","w":22,"v":40},{"c":"Netherlands","w":23,"v":50},{"c":"Netherlands","w":24,"v":80},{"c":"Netherlands","w":25,"v":100},{"c":"Netherlands","w":26,"v":150},{"c":"Netherlands","w":27,"v":200},{"c":"Netherlands","w":28,"v":250},{"c":"Netherlands","w":29,"v":350},{"c":"Netherlands","w":30,"v":450},{"c":"Netherlands","w":31,"v":550},{"c":"Netherlands","w":32,"v":700},{"c":"Netherlands","w":33,"v":850},{"c":"Netherlands","w":34,"v":1050},{"c":"Netherlands","w":35,"v":1300},{"c":"Netherlands","w":36,"v":1600},{"c":"Netherlands","w":37,"v":2100},{"c":"Netherlands","w":38,"v":2600},{"c":"Netherlands","w":39,"v":3000},{"c":"Netherlands","w":40,"v":3200},{"c":"Netherlands","w":41,"v":3300},{"c":"Netherlands","w":42,"v":3000},{"c":"Netherlands","w":43,"v":2700},{"c":"Netherlands","w":44,"v":2600},{"c":"Netherlands","w":45,"v":2500},{"c":"Netherlands","w":46,"v":2600},{"c":"Netherlands","w":47,"v":2800},{"c":"Netherlands","w":48,"v":2900},{"c":"Netherlands","w":49,"v":3100},{"c":"Netherlands","w":50,"v":3300},{"c":"Netherlands","w":51,"v":3400},{"c":"Netherlands","w":52,"v":3200},{"c":"Netherlands","w":53,"v":2800},{"c":"Netherlands","w":54,"v":2500},
{"c":"Poland","w":0,"v":0},{"c":"Poland","w":1,"v":0},{"c":"Poland","w":2,"v":0},{"c":"Poland","w":3,"v":0},{"c":"Poland","w":4,"v":0},{"c":"Poland","w":5,"v":0},{"c":"Poland","w":6,"v":10},{"c":"Poland","w":7,"v":30},{"c":"Poland","w":8,"v":50},{"c":"Poland","w":9,"v":50},{"c":"Poland","w":10,"v":50},{"c":"Poland","w":11,"v":50},{"c":"Poland","w":12,"v":50},{"c":"Poland","w":13,"v":50},{"c":"Poland","w":14,"v":50},{"c":"Poland","w":15,"v":50},{"c":"Poland","w":16,"v":50},{"c":"Poland","w":17,"v":50},{"c":"Poland","w":18,"v":50},{"c":"Poland","w":19,"v":60},{"c":"Poland","w":20,"v":60},{"c":"Poland","w":21,"v":60},{"c":"Poland","w":22,"v":60},{"c":"Poland","w":23,"v":70},{"c":"Poland","w":24,"v":80},{"c":"Poland","w":25,"v":90},{"c":"Poland","w":26,"v":100},{"c":"Poland","w":27,"v":100},{"c":"Poland","w":28,"v":110},{"c":"Poland","w":29,"v":120},{"c":"Poland","w":30,"v":130},{"c":"Poland","w":31,"v":150},{"c":"Poland","w":32,"v":200},{"c":"Poland","w":33,"v":250},{"c":"Poland","w":34,"v":320},{"c":"Poland","w":35,"v":420},{"c":"Poland","w":36,"v":600},{"c":"Poland","w":37,"v":900},{"c":"Poland","w":38,"v":1400},{"c":"Poland","w":39,"v":2100},{"c":"Poland","w":40,"v":2800},{"c":"Poland","w":41,"v":3200},{"c":"Poland","w":42,"v":3400},{"c":"Poland","w":43,"v":3300},{"c":"Poland","w":44,"v":3000},{"c":"Poland","w":45,"v":2600},{"c":"Poland","w":46,"v":2200},{"c":"Poland","w":47,"v":2000},{"c":"Poland","w":48,"v":1900},{"c":"Poland","w":49,"v":1800},{"c":"Poland","w":50,"v":1800},{"c":"Poland","w":51,"v":1700},{"c":"Poland","w":52,"v":1700},{"c":"Poland","w":53,"v":1700},{"c":"Poland","w":54,"v":1600},
{"c":"Portugal","w":0,"v":0},{"c":"Portugal","w":1,"v":0},{"c":"Portugal","w":2,"v":0},{"c":"Portugal","w":3,"v":0},{"c":"Portugal","w":4,"v":0},{"c":"Portugal","w":5,"v":10},{"c":"Portugal","w":6,"v":60},{"c":"Portugal","w":7,"v":120},{"c":"Portugal","w":8,"v":180},{"c":"Portugal","w":9,"v":240},{"c":"Portugal","w":10,"v":280},{"c":"Portugal","w":11,"v":300},{"c":"Portugal","w":12,"v":300},{"c":"Portugal","w":13,"v":300},{"c":"Portugal","w":14,"v":300},{"c":"Portugal","w":15,"v":280},{"c":"Portugal","w":16,"v":260},{"c":"Portugal","w":17,"v":250},{"c":"Portugal","w":18,"v":250},{"c":"Portugal","w":19,"v":250},{"c":"Portugal","w":20,"v":260},{"c":"Portugal","w":21,"v":280},{"c":"Portugal","w":22,"v":300},{"c":"Portugal","w":23,"v":330},{"c":"Portugal","w":24,"v":350},{"c":"Portugal","w":25,"v":350},{"c":"Portugal","w":26,"v":330},{"c":"Portugal","w":27,"v":310},{"c":"Portugal","w":28,"v":300},{"c":"Portugal","w":29,"v":300},{"c":"Portugal","w":30,"v":300},{"c":"Portugal","w":31,"v":300},{"c":"Portugal","w":32,"v":320},{"c":"Portugal","w":33,"v":360},{"c":"Portugal","w":34,"v":420},{"c":"Portugal","w":35,"v":520},{"c":"Portugal","w":36,"v":700},{"c":"Portugal","w":37,"v":1000},{"c":"Portugal","w":38,"v":1400},{"c":"Portugal","w":39,"v":1800},{"c":"Portugal","w":40,"v":2300},{"c":"Portugal","w":41,"v":2700},{"c":"Portugal","w":42,"v":3100},{"c":"Portugal","w":43,"v":3200},{"c":"Portugal","w":44,"v":3200},{"c":"Portugal","w":45,"v":3200},{"c":"Portugal","w":46,"v":3300},{"c":"Portugal","w":47,"v":3500},{"c":"Portugal","w":48,"v":3800},{"c":"Portugal","w":49,"v":4000},{"c":"Portugal","w":50,"v":4200},{"c":"Portugal","w":51,"v":4400},{"c":"Portugal","w":52,"v":4900},{"c":"Portugal","w":53,"v":5700},{"c":"Portugal","w":54,"v":6400},
{"c":"Romania","w":0,"v":0},{"c":"Romania","w":1,"v":0},{"c":"Romania","w":2,"v":0},{"c":"Romania","w":3,"v":0},{"c":"Romania","w":4,"v":0},{"c":"Romania","w":5,"v":10},{"c":"Romania","w":6,"v":30},{"c":"Romania","w":7,"v":60},{"c":"Romania","w":8,"v":100},{"c":"Romania","w":9,"v":150},{"c":"Romania","w":10,"v":180},{"c":"Romania","w":11,"v":200},{"c":"Romania","w":12,"v":200},{"c":"Romania","w":13,"v":200},{"c":"Romania","w":14,"v":200},{"c":"Romania","w":15,"v":180},{"c":"Romania","w":16,"v":170},{"c":"Romania","w":17,"v":170},{"c":"Romania","w":18,"v":180},{"c":"Romania","w":19,"v":200},{"c":"Romania","w":20,"v":250},{"c":"Romania","w":21,"v":300},{"c":"Romania","w":22,"v":350},{"c":"Romania","w":23,"v":400},{"c":"Romania","w":24,"v":450},{"c":"Romania","w":25,"v":480},{"c":"Romania","w":26,"v":500},{"c":"Romania","w":27,"v":520},{"c":"Romania","w":28,"v":520},{"c":"Romania","w":29,"v":500},{"c":"Romania","w":30,"v":480},{"c":"Romania","w":31,"v":470},{"c":"Romania","w":32,"v":480},{"c":"Romania","w":33,"v":500},{"c":"Romania","w":34,"v":550},{"c":"Romania","w":35,"v":650},{"c":"Romania","w":36,"v":800},{"c":"Romania","w":37,"v":1000},{"c":"Romania","w":38,"v":1300},{"c":"Romania","w":39,"v":1600},{"c":"Romania","w":40,"v":1900},{"c":"Romania","w":41,"v":2200},{"c":"Romania","w":42,"v":2400},{"c":"Romania","w":43,"v":2500},{"c":"Romania","w":44,"v":2500},{"c":"Romania","w":45,"v":2400},{"c":"Romania","w":46,"v":2200},{"c":"Romania","w":47,"v":2000},{"c":"Romania","w":48,"v":1800},{"c":"Romania","w":49,"v":1700},{"c":"Romania","w":50,"v":1600},{"c":"Romania","w":51,"v":1400},{"c":"Romania","w":52,"v":1300},{"c":"Romania","w":53,"v":1300},{"c":"Romania","w":54,"v":1300},
{"c":"Slovakia","w":0,"v":0},{"c":"Slovakia","w":1,"v":0},{"c":"Slovakia","w":2,"v":0},{"c":"Slovakia","w":3,"v":0},{"c":"Slovakia","w":4,"v":0},{"c":"Slovakia","w":5,"v":0},{"c":"Slovakia","w":6,"v":10},{"c":"Slovakia","w":7,"v":20},{"c":"Slovakia","w":8,"v":20},{"c":"Slovakia","w":9,"v":20},{"c":"Slovakia","w":10,"v":20},{"c":"Slovakia","w":11,"v":20},{"c":"Slovakia","w":12,"v":10},{"c":"Slovakia","w":13,"v":10},{"c":"Slovakia","w":14,"v":10},{"c":"Slovakia","w":15,"v":10},{"c":"Slovakia","w":16,"v":10},{"c":"Slovakia","w":17,"v":10},{"c":"Slovakia","w":18,"v":10},{"c":"Slovakia","w":19,"v":10},{"c":"Slovakia","w":20,"v":10},{"c":"Slovakia","w":21,"v":10},{"c":"Slovakia","w":22,"v":10},{"c":"Slovakia","w":23,"v":20},{"c":"Slovakia","w":24,"v":20},{"c":"Slovakia","w":25,"v":30},{"c":"Slovakia","w":26,"v":40},{"c":"Slovakia","w":27,"v":40},{"c":"Slovakia","w":28,"v":50},{"c":"Slovakia","w":29,"v":60},{"c":"Slovakia","w":30,"v":80},{"c":"Slovakia","w":31,"v":100},{"c":"Slovakia","w":32,"v":150},{"c":"Slovakia","w":33,"v":250},{"c":"Slovakia","w":34,"v":350},{"c":"Slovakia","w":35,"v":500},{"c":"Slovakia","w":36,"v":800},{"c":"Slovakia","w":37,"v":1300},{"c":"Slovakia","w":38,"v":1800},{"c":"Slovakia","w":39,"v":2200},{"c":"Slovakia","w":40,"v":2400},{"c":"Slovakia","w":41,"v":2400},{"c":"Slovakia","w":42,"v":2300},{"c":"Slovakia","w":43,"v":2300},{"c":"Slovakia","w":44,"v":2400},{"c":"Slovakia","w":45,"v":2600},{"c":"Slovakia","w":46,"v":2800},{"c":"Slovakia","w":47,"v":3100},{"c":"Slovakia","w":48,"v":3300},{"c":"Slovakia","w":49,"v":3400},{"c":"Slovakia","w":50,"v":3500},{"c":"Slovakia","w":51,"v":3500},{"c":"Slovakia","w":52,"v":3600},{"c":"Slovakia","w":53,"v":3500},{"c":"Slovakia","w":54,"v":2900},
{"c":"Slovenia","w":0,"v":0},{"c":"Slovenia","w":1,"v":0},{"c":"Slovenia","w":2,"v":0},{"c":"Slovenia","w":3,"v":0},{"c":"Slovenia","w":4,"v":0},{"c":"Slovenia","w":5,"v":10},{"c":"Slovenia","w":6,"v":50},{"c":"Slovenia","w":7,"v":100},{"c":"Slovenia","w":8,"v":120},{"c":"Slovenia","w":9,"v":100},{"c":"Slovenia","w":10,"v":80},{"c":"Slovenia","w":11,"v":60},{"c":"Slovenia","w":12,"v":40},{"c":"Slovenia","w":13,"v":20},{"c":"Slovenia","w":14,"v":10},{"c":"Slovenia","w":15,"v":10},{"c":"Slovenia","w":16,"v":10},{"c":"Slovenia","w":17,"v":10},{"c":"Slovenia","w":18,"v":10},{"c":"Slovenia","w":19,"v":10},{"c":"Slovenia","w":20,"v":20},{"c":"Slovenia","w":21,"v":30},{"c":"Slovenia","w":22,"v":40},{"c":"Slovenia","w":23,"v":50},{"c":"Slovenia","w":24,"v":60},{"c":"Slovenia","w":25,"v":60},{"c":"Slovenia","w":26,"v":60},{"c":"Slovenia","w":27,"v":60},{"c":"Slovenia","w":28,"v":70},{"c":"Slovenia","w":29,"v":80},{"c":"Slovenia","w":30,"v":100},{"c":"Slovenia","w":31,"v":130},{"c":"Slovenia","w":32,"v":180},{"c":"Slovenia","w":33,"v":250},{"c":"Slovenia","w":34,"v":400},{"c":"Slovenia","w":35,"v":600},{"c":"Slovenia","w":36,"v":900},{"c":"Slovenia","w":37,"v":1500},{"c":"Slovenia","w":38,"v":2500},{"c":"Slovenia","w":39,"v":3300},{"c":"Slovenia","w":40,"v":4200},{"c":"Slovenia","w":41,"v":4600},{"c":"Slovenia","w":42,"v":5000},{"c":"Slovenia","w":43,"v":5000},{"c":"Slovenia","w":44,"v":5000},{"c":"Slovenia","w":45,"v":5000},{"c":"Slovenia","w":46,"v":5100},{"c":"Slovenia","w":47,"v":5100},{"c":"Slovenia","w":48,"v":5200},{"c":"Slovenia","w":49,"v":5200},{"c":"Slovenia","w":50,"v":5300},{"c":"Slovenia","w":51,"v":5300},{"c":"Slovenia","w":52,"v":5500},{"c":"Slovenia","w":53,"v":5800},{"c":"Slovenia","w":54,"v":5000},
{"c":"Spain","w":0,"v":0},{"c":"Spain","w":1,"v":0},{"c":"Spain","w":2,"v":0},{"c":"Spain","w":3,"v":0},{"c":"Spain","w":4,"v":0},{"c":"Spain","w":5,"v":60},{"c":"Spain","w":6,"v":250},{"c":"Spain","w":7,"v":450},{"c":"Spain","w":8,"v":650},{"c":"Spain","w":9,"v":750},{"c":"Spain","w":10,"v":750},{"c":"Spain","w":11,"v":700},{"c":"Spain","w":12,"v":600},{"c":"Spain","w":13,"v":500},{"c":"Spain","w":14,"v":400},{"c":"Spain","w":15,"v":320},{"c":"Spain","w":16,"v":260},{"c":"Spain","w":17,"v":200},{"c":"Spain","w":18,"v":150},{"c":"Spain","w":19,"v":120},{"c":"Spain","w":20,"v":100},{"c":"Spain","w":21,"v":100},{"c":"Spain","w":22,"v":120},{"c":"Spain","w":23,"v":160},{"c":"Spain","w":24,"v":220},{"c":"Spain","w":25,"v":300},{"c":"Spain","w":26,"v":400},{"c":"Spain","w":27,"v":500},{"c":"Spain","w":28,"v":600},{"c":"Spain","w":29,"v":700},{"c":"Spain","w":30,"v":800},{"c":"Spain","w":31,"v":950},{"c":"Spain","w":32,"v":1100},{"c":"Spain","w":33,"v":1300},{"c":"Spain","w":34,"v":1450},{"c":"Spain","w":35,"v":1550},{"c":"Spain","w":36,"v":1650},{"c":"Spain","w":37,"v":1750},{"c":"Spain","w":38,"v":1850},{"c":"Spain","w":39,"v":1950},{"c":"Spain","w":40,"v":2050},{"c":"Spain","w":41,"v":2150},{"c":"Spain","w":42,"v":2200},{"c":"Spain","w":43,"v":2200},{"c":"Spain","w":44,"v":2100},{"c":"Spain","w":45,"v":2000},{"c":"Spain","w":46,"v":1800},{"c":"Spain","w":47,"v":1700},{"c":"Spain","w":48,"v":1700},{"c":"Spain","w":49,"v":1800},{"c":"Spain","w":50,"v":2100},{"c":"Spain","w":51,"v":2500},{"c":"Spain","w":52,"v":3300},{"c":"Spain","w":53,"v":4000},{"c":"Spain","w":54,"v":4900},
{"c":"Sweden","w":0,"v":0},{"c":"Sweden","w":1,"v":0},{"c":"Sweden","w":2,"v":0},{"c":"Sweden","w":3,"v":0},{"c":"Sweden","w":4,"v":0},{"c":"Sweden","w":5,"v":10},{"c":"Sweden","w":6,"v":40},{"c":"Sweden","w":7,"v":80},{"c":"Sweden","w":8,"v":120},{"c":"Sweden","w":9,"v":160},{"c":"Sweden","w":10,"v":200},{"c":"Sweden","w":11,"v":250},{"c":"Sweden","w":12,"v":300},{"c":"Sweden","w":13,"v":350},{"c":"Sweden","w":14,"v":380},{"c":"Sweden","w":15,"v":400},{"c":"Sweden","w":16,"v":430},{"c":"Sweden","w":17,"v":450},{"c":"Sweden","w":18,"v":480},{"c":"Sweden","w":19,"v":500},{"c":"Sweden","w":20,"v":520},{"c":"Sweden","w":21,"v":550},{"c":"Sweden","w":22,"v":560},{"c":"Sweden","w":23,"v":540},{"c":"Sweden","w":24,"v":500},{"c":"Sweden","w":25,"v":450},{"c":"Sweden","w":26,"v":400},{"c":"Sweden","w":27,"v":350},{"c":"Sweden","w":28,"v":300},{"c":"Sweden","w":29,"v":260},{"c":"Sweden","w":30,"v":250},{"c":"Sweden","w":31,"v":250},{"c":"Sweden","w":32,"v":280},{"c":"Sweden","w":33,"v":330},{"c":"Sweden","w":34,"v":400},{"c":"Sweden","w":35,"v":500},{"c":"Sweden","w":36,"v":650},{"c":"Sweden","w":37,"v":900},{"c":"Sweden","w":38,"v":1300},{"c":"Sweden","w":39,"v":1800},{"c":"Sweden","w":40,"v":2400},{"c":"Sweden","w":41,"v":3000},{"c":"Sweden","w":42,"v":3600},{"c":"Sweden","w":43,"v":4000},{"c":"Sweden","w":44,"v":4200},{"c":"Sweden","w":45,"v":4300},{"c":"Sweden","w":46,"v":4300},{"c":"Sweden","w":47,"v":4200},{"c":"Sweden","w":48,"v":4100},{"c":"Sweden","w":49,"v":4200},{"c":"Sweden","w":50,"v":4300},{"c":"Sweden","w":51,"v":4100},{"c":"Sweden","w":52,"v":3800},{"c":"Sweden","w":53,"v":3400},{"c":"Sweden","w":54,"v":2900}
]},
"layer":[
{"mark":{"type":"rect"},
"encoding":{
"x":{"field":"w","type":"quantitative","bin":{"step":1,"extent":[0,55]},"scale":{"domain":[0,55],"nice":false,"zero":false},"axis":{"values":[0,10,20,30,40,50],"format":"d","title":"Week","labelFontSize":10.4,"titleFontSize":10.4,"labelPadding":3,"titlePadding":3,"labelFlush":false}},
"y":{"field":"c","type":"nominal","sort":"ascending","scale":{"paddingInner":0,"paddingOuter":0},"axis":{"title":null,"labelFontSize":7,"labelPadding":2}},
"color":{"field":"v","type":"quantitative","scale":{"type":"linear","domain":[0,800,1600,2400,3200,4000,4800,5600,6400],"range":["#fff7ec","#fee8c8","#fdd49e","#fdbb84","#fc8d59","#ef6548","#d7301f","#b30000","#7f0000"]},"legend":{"type":"gradient","orient":"none","legendX":345,"legendY":0,"direction":"vertical","gradientLength":274,"gradientThickness":14,"gradientStrokeColor":"black","gradientStrokeWidth":0.8,"values":[0,1000,2000,3000,4000,5000,6000],"format":"d","labelFontSize":10.4,"labelFont":"DejaVu Sans","labelColor":"black","labelOffset":6,"labelBaseline":"middle","labelOverlap":false,"title":null,"encode":{"labels":{"update":{"baseline":{"value":"middle"}}}}}}
}},
{"mark":{"type":"rect"},
"encoding":{
"x":{"field":"w","type":"quantitative","bin":{"step":1,"extent":[0,55]},"scale":{"domain":[0,55],"nice":false,"zero":false},"axis":{"orient":"top","labels":false,"ticks":false,"title":null,"domain":true}},
"y":{"field":"c","type":"nominal","sort":"ascending","scale":{"paddingInner":0,"paddingOuter":0},"axis":{"orient":"right","labels":false,"ticks":false,"title":null,"domain":true}},
"color":{"field":"v","type":"quantitative","scale":{"type":"linear","domain":[0,800,1600,2400,3200,4000,4800,5600,6400],"range":["#fff7ec","#fee8c8","#fdd49e","#fdbb84","#fc8d59","#ef6548","#d7301f","#b30000","#7f0000"]},"legend":{"type":"gradient","orient":"none","legendX":345,"legendY":0,"direction":"vertical","gradientLength":274,"gradientThickness":14,"gradientStrokeColor":"black","gradientStrokeWidth":0.8,"values":[0,1000,2000,3000,4000,5000,6000],"format":"d","labelFontSize":10.4,"labelFont":"DejaVu Sans","labelColor":"black","labelOffset":6,"labelBaseline":"middle","labelOverlap":false,"title":null,"encode":{"labels":{"update":{"baseline":{"value":"middle"}}}}}}
}}
],
"resolve":{"axis":{"x":"independent","y":"independent"}},
"config":{"view":{"stroke":"black","strokeWidth":1},"font":"DejaVu Sans","axis":{"domainColor":"black","tickColor":"black","labelColor":"black","titleColor":"black","grid":false,"labelFont":"DejaVu Sans","titleFont":"DejaVu Sans","titleFontWeight":"normal","tickSize":3.5,"tickWidth":0.8,"domainWidth":1}}
}
